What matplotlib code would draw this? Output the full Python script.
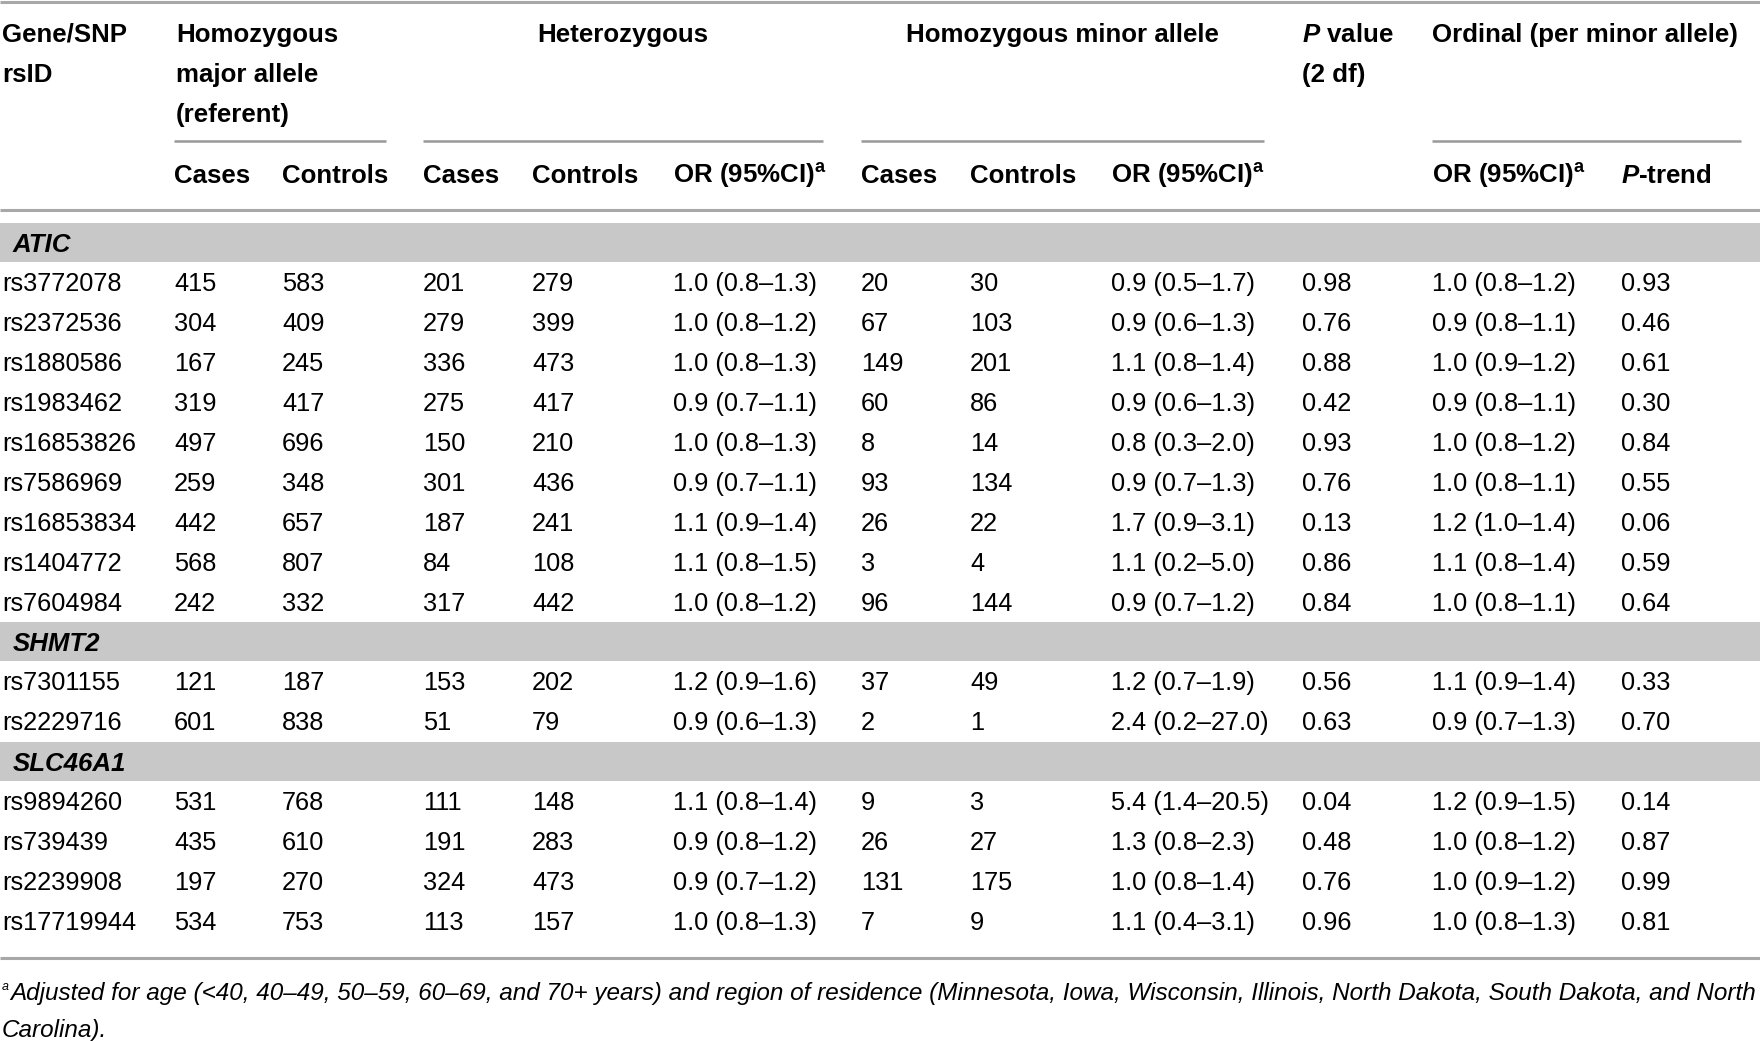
import matplotlib.pyplot as plt

# Table data (one entry per SNP)
genes = ['ATIC', 'SHMT2', 'SLC46A1']
gene_counts = [9, 2, 4]
snps = ['rs3772078', 'rs2372536', 'rs1880586', 'rs1983462', 'rs16853826', 'rs7586969',
        'rs16853834', 'rs1404772', 'rs7604984',
        'rs7301155', 'rs2229716',
        'rs9894260', 'rs739439', 'rs2239908', 'rs17719944']
hom_cases = [415, 304, 167, 319, 497, 259, 442, 568, 242, 121, 601, 531, 435, 197, 534]
hom_controls = [583, 409, 245, 417, 696, 348, 657, 807, 332, 187, 838, 768, 610, 270, 753]
het_cases = [201, 279, 336, 275, 150, 301, 187, 84, 317, 153, 51, 111, 191, 324, 113]
het_controls = [279, 399, 473, 417, 210, 436, 241, 108, 442, 202, 79, 148, 283, 473, 157]
het_or = [1.0, 1.0, 1.0, 0.9, 1.0, 0.9, 1.1, 1.1, 1.0, 1.2, 0.9, 1.1, 0.9, 0.9, 1.0]
het_lo = [0.8, 0.8, 0.8, 0.7, 0.8, 0.7, 0.9, 0.8, 0.8, 0.9, 0.6, 0.8, 0.8, 0.7, 0.8]
het_hi = [1.3, 1.2, 1.3, 1.1, 1.3, 1.1, 1.4, 1.5, 1.2, 1.6, 1.3, 1.4, 1.2, 1.2, 1.3]
min_cases = [20, 67, 149, 60, 8, 93, 26, 3, 96, 37, 2, 9, 26, 131, 7]
min_controls = [30, 103, 201, 86, 14, 134, 22, 4, 144, 49, 1, 3, 27, 175, 9]
min_or = [0.9, 0.9, 1.1, 0.9, 0.8, 0.9, 1.7, 1.1, 0.9, 1.2, 2.4, 5.4, 1.3, 1.0, 1.1]
min_lo = [0.5, 0.6, 0.8, 0.6, 0.3, 0.7, 0.9, 0.2, 0.7, 0.7, 0.2, 1.4, 0.8, 0.8, 0.4]
min_hi = [1.7, 1.3, 1.4, 1.3, 2.0, 1.3, 3.1, 5.0, 1.2, 1.9, 27.0, 20.5, 2.3, 1.4, 3.1]
p_2df = [0.98, 0.76, 0.88, 0.42, 0.93, 0.76, 0.13, 0.86, 0.84, 0.56, 0.63, 0.04, 0.48, 0.76, 0.96]
ord_or = [1.0, 0.9, 1.0, 0.9, 1.0, 1.0, 1.2, 1.1, 1.0, 1.1, 0.9, 1.2, 1.0, 1.0, 1.0]
ord_lo = [0.8, 0.8, 0.9, 0.8, 0.8, 0.8, 1.0, 0.8, 0.8, 0.9, 0.7, 0.9, 0.8, 0.9, 0.8]
ord_hi = [1.2, 1.1, 1.2, 1.1, 1.2, 1.1, 1.4, 1.4, 1.1, 1.4, 1.3, 1.5, 1.2, 1.2, 1.3]
p_trend = [0.93, 0.46, 0.61, 0.30, 0.84, 0.55, 0.06, 0.59, 0.64, 0.33, 0.70, 0.14, 0.87, 0.99, 0.81]

footnote_1 = ('Adjusted for age (<40, 40\u201349, 50\u201359, 60\u201369, and 70+ years) and region of residence '
              '(Minnesota, Iowa, Wisconsin, Illinois, North Dakota, South Dakota, and North')
footnote_2 = 'Carolina).'

plt.rcParams['font.family'] = ['Liberation Sans', 'DejaVu Sans']
plt.rcParams['mathtext.fontset'] = 'custom'
plt.rcParams['mathtext.rm'] = 'Liberation Sans'
plt.rcParams['mathtext.it'] = 'Liberation Sans:italic'
plt.rcParams['mathtext.bf'] = 'Liberation Sans:bold'
plt.rcParams['mathtext.bfit'] = 'Liberation Sans:italic:bold'

W, H = 1760, 1041
fig = plt.figure(figsize=(W / 100, H / 100), dpi=100)
ax = fig.add_axes([0, 0, 1, 1])
ax.set_xlim(0, W)
ax.set_ylim(H, 0)
ax.axis('off')

def fmt_ci(o, lo, hi):
    return f'{o:.1f} ({lo:.1f}\u2013{hi:.1f})'

line_col = '#a8a8a8'
band_col = '#c8c8c8'
HEAD_FS = 18.6
DATA_FS = 18.3
FOOT_FS = 17.5

# column left edges
col_x = [2, 174, 282, 423, 532, 673, 861, 970, 1111, 1302, 1432, 1621]

# rules
ax.hlines(1.5, 0, W, color=line_col, lw=2.2)
ax.hlines(210, 0, W, color=line_col, lw=2.2)
ax.hlines(958, 0, W, color=line_col, lw=2.2)
for x0, x1 in [(174, 386), (423, 823), (861, 1264), (1432, 1741)]:
    ax.hlines(141, x0, x1, color='#999999', lw=1.8)

# header
hb = [41.7, 81.7, 121.7]
ax.text(2, hb[0], 'Gene/SNP', fontsize=HEAD_FS, fontweight='bold', va='baseline')
ax.text(2, hb[1], 'rsID', fontsize=HEAD_FS, fontweight='bold', va='baseline')
for i, s in enumerate(['Homozygous', 'major allele', '(referent)']):
    ax.text(176, hb[i], s, fontsize=HEAD_FS, fontweight='bold', va='baseline')
ax.text(623, hb[0], 'Heterozygous', fontsize=HEAD_FS, fontweight='bold', va='baseline', ha='center')
ax.text(1062, hb[0], 'Homozygous minor allele', fontsize=HEAD_FS, fontweight='bold',
        va='baseline', ha='center')
ax.text(1302, hb[0], r'$\mathbfit{P}$ value', fontsize=HEAD_FS, fontweight='bold', va='baseline')
ax.text(1302, hb[1], '(2 df)', fontsize=HEAD_FS, fontweight='bold', va='baseline')
ax.text(1432, hb[0], 'Ordinal (per minor allele)', fontsize=HEAD_FS, fontweight='bold', va='baseline')

sub_labels = ['Cases', 'Controls', 'Cases', 'Controls', r'OR (95%CI)$^{\mathbf{a}}$',
              'Cases', 'Controls', r'OR (95%CI)$^{\mathbf{a}}$']
sub_x = col_x[1:9]
for x, s in zip(sub_x, sub_labels):
    ax.text(x, 182.7, s, fontsize=HEAD_FS, fontweight='bold', va='baseline')
ax.text(col_x[10], 182.7, r'OR (95%CI)$^{\mathbf{a}}$', fontsize=HEAD_FS, fontweight='bold', va='baseline')
ax.text(col_x[11], 182.7, r'$\mathbfit{P}$-trend', fontsize=HEAD_FS, fontweight='bold', va='baseline')

# body
row0 = 242.5
step = 39.94
k = 0
idx = 0
for g, n in zip(genes, gene_counts):
    yc = row0 + step * k
    ax.axhspan(yc - 19.5, yc + 19.5, color=band_col, lw=0)
    ax.text(13, yc + 9, g, fontsize=HEAD_FS, fontweight='bold', style='italic', va='baseline')
    k += 1
    for _ in range(n):
        i = idx
        yb = row0 + step * k + 8.6
        vals = [snps[i], str(hom_cases[i]), str(hom_controls[i]),
                str(het_cases[i]), str(het_controls[i]), fmt_ci(het_or[i], het_lo[i], het_hi[i]),
                str(min_cases[i]), str(min_controls[i]), fmt_ci(min_or[i], min_lo[i], min_hi[i]),
                f'{p_2df[i]:.2f}', fmt_ci(ord_or[i], ord_lo[i], ord_hi[i]), f'{p_trend[i]:.2f}']
        for x, s in zip(col_x, vals):
            ax.text(x, yb, s, fontsize=DATA_FS, va='baseline')
        idx += 1
        k += 1

# footnote
ax.text(2, 990, 'a', fontsize=9, style='italic', va='baseline')
ax.text(10, 1000, footnote_1, fontsize=FOOT_FS, style='italic', va='baseline')
ax.text(2, 1037, footnote_2, fontsize=FOOT_FS, style='italic', va='baseline')

fig.savefig('out.png', dpi=100)
